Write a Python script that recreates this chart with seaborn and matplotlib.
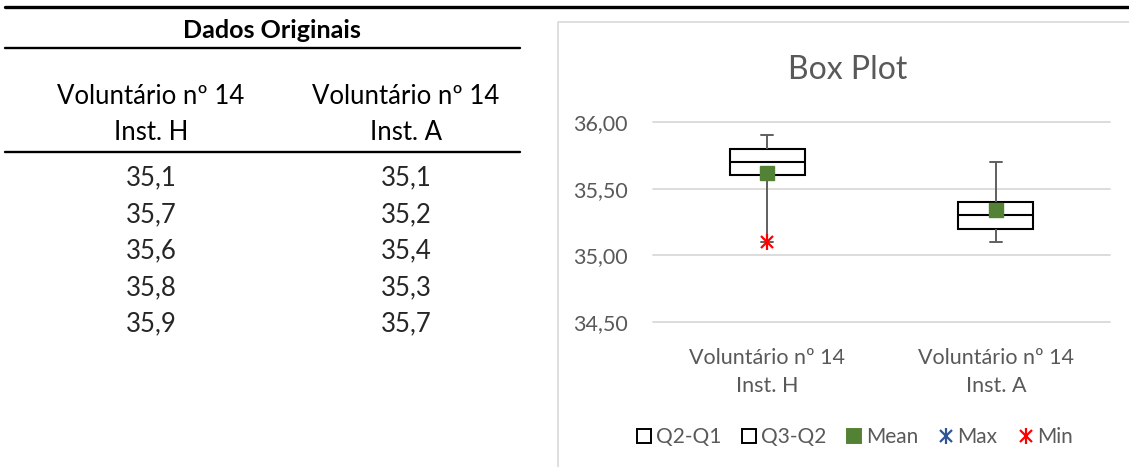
import matplotlib
matplotlib.use('Agg')
import matplotlib.pyplot as plt
import matplotlib.colors as mcolors
import pandas as pd
import seaborn as sns
from matplotlib.lines import Line2D
from matplotlib.ticker import FuncFormatter

# dados originais (tabela da esquerda)
categorias = ['Voluntário nº 14\nInst. H', 'Voluntário nº 14\nInst. A']
inst_h = [35.1, 35.7, 35.6, 35.8, 35.9]
inst_a = [35.1, 35.2, 35.4, 35.3, 35.7]
# serie "Min" do grafico: so aparece no primeiro grupo
serie_min = [35.1, None]
y_ticks = [34.5, 35.0, 35.5, 36.0]
legenda = ['Q2-Q1', 'Q3-Q2', 'Mean', 'Max', 'Min']

sns.set_theme(style='white')
plt.rcParams['font.family'] = ['Lato', 'DejaVu Sans']

W, H = 1129, 467
fig = plt.figure(figsize=(W / 100, H / 100), dpi=100)


def fx(px):
    return px / W


def fy(py):
    return 1 - py / H


def linha(x0, x1, y, lw, cor='black'):
    fig.add_artist(Line2D([fx(x0), fx(x1)], [fy(y), fy(y)], lw=lw, color=cor,
                          transform=fig.transFigure))


def virgula(v, casas=1):
    return f'{v:.{casas}f}'.replace('.', ',')


# ---- tabela ----
linha(5, 1129, 7, 2.4)
fig.text(fx(272), fy(31), 'Dados Originais', ha='center', va='center',
         fontsize=18, fontweight='bold', color='black')
linha(5, 520, 48, 1.7)
col_x = [151, 406]
for x, cat in zip(col_x, categorias):
    l1, l2 = cat.split('\n')
    fig.text(fx(x), fy(97), l1, ha='center', va='center', fontsize=18.5, color='black')
    fig.text(fx(x), fy(132), l2, ha='center', va='center', fontsize=18.5, color='black')
linha(5, 520, 152, 1.7)
for i, (h, a) in enumerate(zip(inst_h, inst_a)):
    y = 178 + 36.5 * i
    fig.text(fx(col_x[0]), fy(y), virgula(h), ha='center', va='center', fontsize=18.5)
    fig.text(fx(col_x[1]), fy(y), virgula(a), ha='center', va='center', fontsize=18.5)

# ---- moldura do grafico ----
fig.add_artist(Line2D([fx(558), fx(558), fx(1129)], [fy(467), fy(22), fy(22)],
                      color='#D9D9D9', lw=1.2, transform=fig.transFigure))
fig.text(fx(848), fy(70), 'Box Plot', ha='center', va='center',
         fontsize=23, color='#595959')

# ---- box plot ----
ax = fig.add_axes([fx(653), fy(322), (1110 - 653) / W, (322 - 122) / H])
df = pd.DataFrame({
    'grupo': [categorias[0]] * len(inst_h) + [categorias[1]] * len(inst_a),
    'temp': inst_h + inst_a,
})
cinza = '#5f5f5f'
sns.boxplot(data=df, x='grupo', y='temp', order=categorias, ax=ax,
            whis=(0, 100), width=0.33, color='white', linecolor='black',
            linewidth=1.5, showmeans=True,
            meanprops=dict(marker='s', markerfacecolor='#548235',
                           markeredgecolor='#548235', markersize=10.5),
            whiskerprops=dict(color=cinza, linewidth=1.4),
            capprops=dict(color=cinza, linewidth=1.4))

# tampas curtas como no Excel
for ln in ax.lines:
    xd, yd = ln.get_xdata(), ln.get_ydata()
    if len(xd) == 2 and yd[0] == yd[1] and mcolors.to_hex(ln.get_color()) == cinza:
        c = (xd[0] + xd[1]) / 2
        ln.set_xdata([c - 0.027, c + 0.027])

for i, v in enumerate(serie_min):
    if v is not None:
        ax.plot(i, v, ls='', marker='x', color='red', ms=9, mew=1.6, zorder=6)
        ax.plot(i, v, ls='', marker='|', color='red', ms=12, mew=1.6, zorder=6)

ax.set_ylim(34.5, 36.0)
ax.set_xlim(-0.5, 1.5)
ax.set_yticks(y_ticks)
ax.yaxis.set_major_formatter(FuncFormatter(lambda v, p: virgula(v, 2)))
ax.set_xlabel('')
ax.set_ylabel('')
ax.yaxis.grid(True, color='#D9D9D9', lw=1.3)
for gl in ax.get_ygridlines():
    gl.set_clip_on(False)
ax.set_axisbelow(True)
sns.despine(ax=ax, left=True, bottom=True)
ax.tick_params(axis='both', length=0, labelsize=15.5, labelcolor='#595959')
ax.tick_params(axis='y', pad=18)
ax.tick_params(axis='x', pad=19)
plt.setp(ax.get_xticklabels(), linespacing=1.45)

# ---- legenda ----
quad = dict(ls='', marker='s', ms=10, mew=1.4)
handles = [
    Line2D([], [], mfc='white', mec='black', **quad),
    Line2D([], [], mfc='white', mec='black', **quad),
    Line2D([], [], mfc='#548235', mec='#548235', **quad),
    (Line2D([], [], ls='', marker='x', color='#2F5597', ms=9, mew=1.6),
     Line2D([], [], ls='', marker='|', color='#2F5597', ms=12, mew=1.6)),
    (Line2D([], [], ls='', marker='x', color='red', ms=9, mew=1.6),
     Line2D([], [], ls='', marker='|', color='red', ms=12, mew=1.6)),
]
fig.legend(handles, legenda, loc='center', bbox_to_anchor=(fx(855), fy(437)),
           ncol=5, frameon=False, fontsize=15, labelcolor='#595959',
           handlelength=0.7, handletextpad=0.2, columnspacing=1.0)

fig.savefig('out.png', dpi=100)
